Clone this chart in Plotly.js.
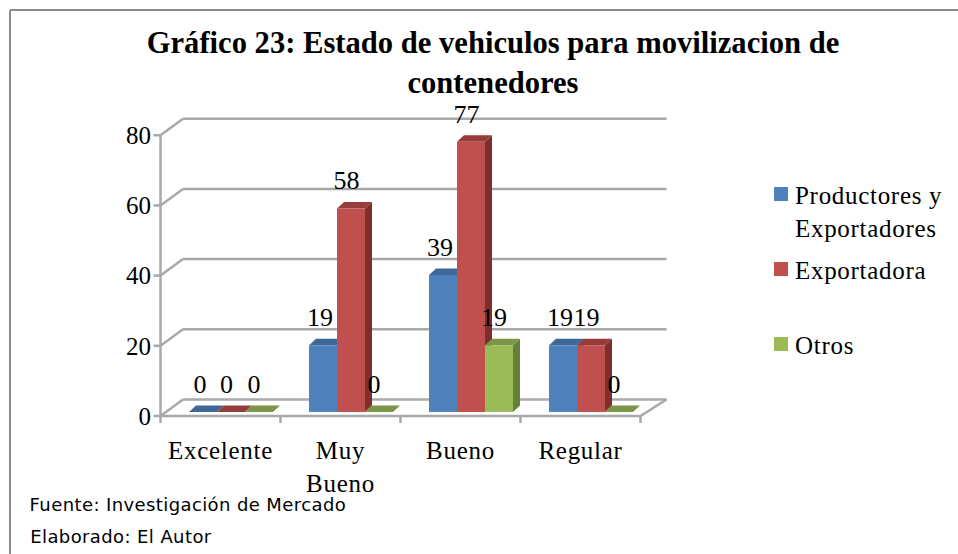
<!DOCTYPE html>
<html><head><meta charset="utf-8">
<script src="https://cdn.plot.ly/plotly-3.0.1.min.js"></script>
<style>html,body{margin:0;padding:0;background:#fff}#c{width:958px;height:554px}
.xtick text{letter-spacing:.7px}
.annotation text{letter-spacing:.7px}
.annotation[data-index="0"] text,.annotation[data-index="1"] text{letter-spacing:.4px}
</style>
</head><body><div id="c"></div>
<script>
const categories = ['Excelente', 'Muy<br>Bueno', 'Bueno', 'Regular'];
const productores = [0, 19, 39, 19];
const exportadora = [0, 58, 77, 19];
const otros = [0, 0, 19, 0];
const seriesNames = ['Productores y<br>Exportadores', 'Exportadora', 'Otros'];
const yTicks = [0, 20, 40, 60, 80];
const catIndex = categories.map((_, i) => i);

const series = [productores, exportadora, otros];
const front = ['#4F81BD', '#C0504D', '#9BBB59'];
const side = ['#37597F', '#7E2F2D', '#66803A'];
const top_ = ['#3F6797', '#963D3B', '#7A9646'];
const labelShift = [-3, -4.5, -5];
const legendTextY = [211.5, 270, 345];
const legendSwatchY = [187, 262, 337];

const W = 958, H = 554;
const pxX = 120, pxY = 3.51;
const L = 152, R = 672, T = 116, B = 425;
const x0Px = 160.5, y0Px = 416;
const xr = [(L - x0Px) / pxX - 0.5, (R - x0Px) / pxX - 0.5];
const yr = [(y0Px - B) / pxY, (y0Px - T) / pxY];
const paperX = p => (p - L) / (R - L);
const paperY = p => (B - p) / (B - T);

const barW = 28 / pxX;
const offs = [-0.2625, -0.2625 + barW, -0.2625 + 2 * barW];
const base = 4 / pxY;
const dx = 7 / pxX, dy = 6.5 / pxY;
const wallDx = 22.5 / pxX, wallDxR = 26 / pxX, wallDy = 16.5 / pxY;
const xLeft = -0.5, xRight = 3.5;

const grid = '#A9A9A9';
const line = (x0, y0, x1, y1) => ({type: 'line', xref: 'x', yref: 'y', x0, y0, x1, y1,
  layer: 'below', line: {color: grid, width: 2.5}});
const poly = (pts, color) => ({type: 'path', xref: 'x', yref: 'y', layer: 'below',
  path: 'M' + pts.map(p => p[0] + ',' + p[1]).join('L') + 'Z', fillcolor: color, line: {width: 0}});
const paperLine = (x0, y0, x1, y1) => ({type: 'line', xref: 'paper', yref: 'paper',
  x0: paperX(x0), y0: paperY(y0), x1: paperX(x1), y1: paperY(y1), line: {color: '#8C8C8C', width: 2}});

const shapes = [paperLine(10, 10, 958, 10), paperLine(10, 10, 10, 554)];
yTicks.forEach(v => {
  shapes.push(line(xLeft, v, xLeft + wallDx, v + wallDy));
  shapes.push(line(xLeft + wallDx, v + wallDy, xRight + wallDxR, v + wallDy));
  shapes.push(line(xLeft - 7 / pxX, v, xLeft, v));
});
shapes.push(line(xLeft, 0, xLeft, 80));
shapes.push(line(xLeft, 0, xRight, 0));
shapes.push(line(xRight, 0, xRight + wallDxR, wallDy));
for (let i = 0; i <= categories.length; i++) shapes.push(line(xLeft + i, 0, xLeft + i, -7 / pxY));

series.forEach((vals, s) => {
  vals.forEach((v, c) => {
    const a = c + offs[s], b = a + barW, t = base + v;
    if (v > 0) shapes.push(poly([[b, base], [b + dx, base + dy], [b + dx, t + dy], [b, t]], side[s]));
    shapes.push(poly([[a, t], [a + dx, t + dy], [b + dx, t + dy], [b, t]], top_[s]));
  });
});
series.forEach((_, s) => shapes.push({type: 'rect', xref: 'paper', yref: 'paper',
  x0: paperX(774), x1: paperX(788), y0: paperY(legendSwatchY[s] + 14), y1: paperY(legendSwatchY[s]),
  fillcolor: front[s], line: {width: 0}}));

const traces = [];
series.forEach((vals, s) => {
  traces.push({type: 'bar', name: seriesNames[s], x: catIndex, y: vals, showlegend: false,
    base: vals.map(() => base), width: barW, offset: offs[s],
    marker: {color: front[s], line: {width: 0}}, hoverinfo: 'y'});
});
series.forEach((vals, s) => {
  traces.push({type: 'scatter', mode: 'text', showlegend: false, hoverinfo: 'skip',
    x: catIndex.map(c => c + offs[s] + barW / 2 + labelShift[s] / pxX),
    y: vals.map(v => v + base + 25.5 / pxY),
    text: vals.map(String), textposition: 'middle center', cliponaxis: false,
    textfont: {family: 'Liberation Serif', size: 26, color: '#000'}});
});

const footer = (text, px, y) => ({xref: 'paper', yref: 'paper', x: paperX(px), y: paperY(y), xanchor: 'left', yanchor: 'middle',
  showarrow: false, text, font: {family: 'DejaVu Sans', size: 18, color: '#000'}});
const legendNotes = seriesNames.map((n, s) => ({xref: 'paper', yref: 'paper', x: paperX(793), y: paperY(legendTextY[s]),
  xanchor: 'left', yanchor: 'middle', align: 'left', showarrow: false, text: n,
  font: {family: 'Liberation Serif', size: 25, color: '#000'}}));

const layout = {
  width: W, height: H, margin: {l: L, r: W - R, t: T, b: H - B, pad: 0}, showlegend: false,
  paper_bgcolor: '#fff', plot_bgcolor: '#fff', barmode: 'overlay',
  font: {family: 'Liberation Serif', color: '#000'},
  title: {text: 'Gráfico 23: Estado de vehiculos para movilizacion de<br>contenedores',
    x: 493 / W, xanchor: 'center', y: 1 - 53 / H, yanchor: 'top',
    font: {family: 'Liberation Serif', size: 30.6, color: '#000', weight: 'bold'}},
  xaxis: {range: xr, tickmode: 'array', tickvals: catIndex, ticktext: categories,
    showgrid: false, zeroline: false, showline: false, ticks: 'outside', ticklen: 3,
    tickcolor: 'rgba(0,0,0,0)', tickfont: {size: 25}, automargin: false, fixedrange: true},
  yaxis: {range: yr, tickmode: 'array', tickvals: yTicks, ticktext: yTicks.map(String),
    showgrid: false, zeroline: false, showline: false, ticks: '', tickfont: {size: 25},
    automargin: false, fixedrange: true},
  shapes,
  annotations: [footer('Fuente: Investigación de Mercado', 34, 504), footer('Elaborado: El Autor', 32, 536)].concat(legendNotes)
};
Plotly.newPlot('c', traces, layout, {displayModeBar: false, responsive: false});
</script></body></html>
